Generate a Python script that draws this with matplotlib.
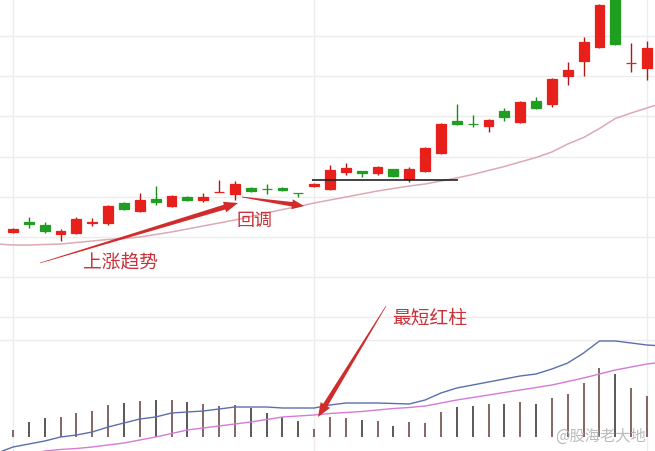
import matplotlib
matplotlib.use("Agg")
import matplotlib.pyplot as plt
from matplotlib.patches import Polygon
import numpy as np

plt.rcParams['font.family'] = ['Noto Sans CJK SC', 'DejaVu Sans']

# ---------------- data ----------------
opens  = [16.8, 17.8, 17.5, 16.6, 16.7, 17.7, 17.7, 19.7, 18.9, 20.1,
          19.4, 20.3, 20.0, 20.8, 20.6, 21.2, 21.15, 21.2, 20.72, 21.4,
          21.1, 22.8, 22.9, 22.7, 23.1, 22.1, 22.9, 24.7, 27.9, 27.62,
          27.4, 28.9, 27.8, 29.9, 29.6, 32.4, 33.9, 35.3, 41.0, 33.7, 33.2]
closes = [17.1, 17.6, 16.9, 16.9, 18.1, 17.8, 19.4, 19.1, 20.0, 19.8,
          20.4, 20.0, 20.3, 20.8, 21.6, 20.9, 21.1, 21.0, 20.7, 21.6,
          23.0, 23.2, 22.7, 23.3, 22.4, 23.1, 25.2, 27.6, 27.6, 27.6,
          28.0, 28.3, 29.8, 29.2, 32.1, 33.0, 35.8, 39.5, 35.6, 33.7, 35.2]
highs  = [17.2, 18.3, 17.8, 17.1, 18.3, 18.2, 19.5, 19.8, 20.7, 21.4,
          20.5, 20.4, 20.7, 22.0, 21.9, 21.3, 21.6, 21.3, 20.72, 21.7,
          23.5, 23.7, 22.9, 23.4, 23.1, 23.3, 25.3, 27.7, 29.6, 28.5,
          28.1, 29.2, 29.9, 30.3, 32.2, 33.8, 36.3, 39.6, 41.2, 35.7, 35.9]
lows   = [16.7, 17.2, 16.7, 15.9, 16.6, 17.4, 17.5, 19.0, 18.8, 19.5,
          19.3, 19.9, 19.8, 20.8, 20.0, 20.8, 20.6, 20.9, 20.3, 21.3,
          21.0, 22.5, 22.3, 22.5, 22.3, 21.8, 22.8, 24.6, 27.5, 27.3,
          26.8, 27.9, 27.7, 29.1, 29.3, 31.5, 32.4, 35.2, 35.5, 32.8, 32.0]

# price moving average, indices -1 .. 41
price_ma = [15.6, 15.5, 15.5, 15.55, 15.6, 15.75, 15.9, 16.05, 16.15, 16.3,
            16.55, 16.8, 17.1, 17.4, 17.7, 18.0, 18.35, 18.7, 19.05, 19.35,
            19.7, 20.0, 20.3, 20.6, 20.9, 21.15, 21.4, 21.6, 21.9, 22.2,
            22.55, 22.95, 23.35, 23.8, 24.25, 24.8, 25.6, 26.25, 27.15, 28.15,
            28.7, 29.2, 29.7]

volumes = [4000, 4800, 5200, 5300, 5700, 5900, 6500, 6700, 6900, 7000,
           7000, 6800, 6600, 6400, 6500, 6200, 5700, 5300, 4900, 4100,
           5300, 5200, 5000, 4900, 4400, 4800, 4700, 5800, 6300, 6400,
           6600, 6600, 6800, 6600, 7200, 7600, 8700, 10200, 9600, 8200, 7400]

# volume averages, indices -1 .. 41
vol_ma5 = [1700, 2300, 2600, 2900, 3300, 3500, 3800, 4300, 4700, 5100,
           5300, 5700, 5800, 5900, 6100, 6300, 6300, 6300, 6200, 6200,
           6200, 6500, 6700, 6700, 6700, 6650, 6600, 7000, 7700, 8200,
           8500, 8800, 9100, 9400, 9600, 10100, 10700, 11700, 12900, 12900,
           12700, 12500, 12400]
vol_ma10 = [800, 1100, 1500, 1900, 2050, 2150, 2300, 2500, 2700, 3000,
            3300, 3650, 4000, 4200, 4400, 4600, 4800, 5050, 5300, 5400,
            5500, 5650, 5750, 5850, 6000, 6150, 6250, 6400, 6700, 7000,
            7250, 7500, 7750, 8000, 8250, 8500, 8850, 9200, 9600, 10000,
            10300, 10600, 10800]

VOL_BASE = 3300
SUPPORT_LEVEL = 22.0
SUPPORT_SPAN = (18.86, 28.08)

labels = ["上涨趋势", "回调", "最短红柱"]
watermark = "@股海老大地"

# ---------------- style ----------------
RED = "#e8201c"
GREEN = "#1f9e22"
RED_WICK = "#b01818"
GREEN_WICK = "#1a8a1e"
GRID = "#ececec"
ANN = "#d22b2b"

W, H = 655, 451
fig = plt.figure(figsize=(W / 100, H / 100), dpi=100)
fig.patch.set_facecolor("white")

main_h = 300
ax = fig.add_axes([0, 1 - main_h / H, 1, main_h / H])
axv = fig.add_axes([0, 0, 1, (H - main_h) / H])

n = len(opens)
idx = np.arange(n)
xlim = (-13 / 15.85, (W - 13) / 15.85)

for a in (ax, axv):
    a.set_xlim(*xlim)
    a.set_xticks([0, 19, 40])
    a.tick_params(left=False, bottom=False, labelleft=False, labelbottom=False)
    a.grid(True, color=GRID, linewidth=1.0)
    a.set_axisbelow(True)
    for s in a.spines.values():
        s.set_visible(False)

ax.set_ylim(10, 40)
ax.set_yticks([36.4, 32.4, 28.4, 24.3, 20.3, 16.3, 12.3])
axv.set_ylim(1900, 17000)
axv.set_yticks([15300, 13000])

# moving average
ax.plot(np.arange(-1, n + 1), price_ma, color="#dcaab2", lw=1.1, zorder=2)

# candles
o = np.array(opens); c = np.array(closes)
up = c >= o
cols = np.where(up, RED, GREEN)
wcols = np.where(up, RED_WICK, GREEN_WICK)
ax.vlines(idx, lows, highs, colors=wcols, lw=1.0, zorder=3)
bottoms = np.minimum(o, c)
heights = np.maximum(np.abs(c - o), 0.001)
ax.bar(idx, heights, bottom=bottoms, width=0.62, color=cols,
       edgecolor=cols, linewidth=0.9, zorder=4)

# support line
ax.hlines(SUPPORT_LEVEL, *SUPPORT_SPAN, color="#222222", lw=1.2, zorder=5)

# volume
vcols = np.where(up, "#7a5a58", "#4f4a4a")
axv.vlines(idx, VOL_BASE, volumes, colors=vcols, lw=1.3, zorder=3)
axv.plot(np.arange(-1, n + 1), vol_ma5, color="#5a6fae", lw=1.0, zorder=4)
axv.plot(np.arange(-1, n + 1), vol_ma10, color="#d57ad8", lw=1.0, zorder=4)

# ---------------- annotations (overlay in pixel space) ----------------
ov = fig.add_axes([0, 0, 1, 1], zorder=10)
ov.set_xlim(0, W); ov.set_ylim(H, 0)
ov.axis("off"); ov.patch.set_alpha(0)


def tapered_arrow(start, tip, w0, w1, head_w, head_len, color):
    s = np.array(start, float); t = np.array(tip, float)
    u = (t - s) / np.linalg.norm(t - s)
    nrm = np.array([-u[1], u[0]])
    base = t - u * head_len
    pts = [s + nrm * w0 / 2, base + nrm * w1 / 2, base + nrm * head_w / 2, t,
           base - nrm * head_w / 2, base - nrm * w1 / 2, s - nrm * w0 / 2]
    ov.add_patch(Polygon(pts, closed=True, facecolor=color, edgecolor="none"))


tapered_arrow((40, 263), (238, 203), 0.6, 5.0, 11, 14, ANN)
tapered_arrow((242, 197), (304, 206), 0.8, 4.5, 10, 12, ANN)
tapered_arrow((386, 306), (318, 417), 0.6, 5.0, 11, 14, ANN)

ov.text(120, 263, labels[0], color="#c8323a", fontsize=13.5, ha="center", va="center")
ov.text(255, 221, labels[1], color="#c8323a", fontsize=13, ha="center", va="center")
ov.text(430, 318, labels[2], color="#c8323a", fontsize=13.5, ha="center", va="center")
ov.text(600, 436, watermark, color="#b4b4b4", fontsize=11, ha="center", va="center", alpha=0.9)

fig.savefig("out.png", dpi=100)
